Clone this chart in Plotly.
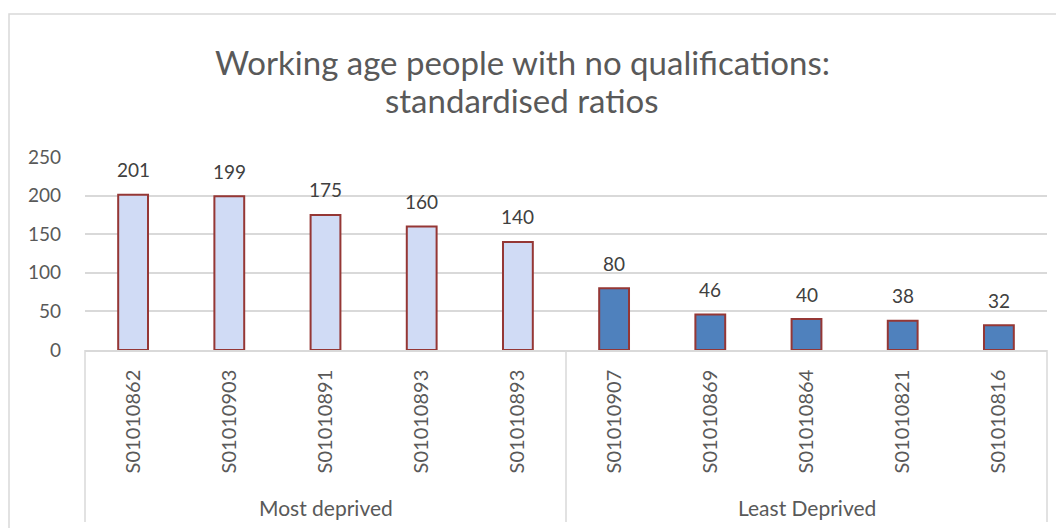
import plotly.graph_objects as go

categories = ["S01010862", "S01010903", "S01010891", "S01010893", "S01010893",
              "S01010907", "S01010869", "S01010864", "S01010821", "S01010816"]
values = [201, 199, 175, 160, 140, 80, 46, 40, 38, 32]
groups = ["Most deprived"] * 5 + ["Least Deprived"] * 5
group_names = ["Most deprived", "Least Deprived"]
yticks = [0, 50, 100, 150, 200, 250]
title_lines = ["Working age people with no qualifications:", "standardised ratios"]

FONT = "Lato"
TXT = "#595959"

# plot area geometry in figure pixels (page is offset by 8px body margin)
PL, PR, PT, PB = 77, 1039, 149, 342
PW, PH = PR - PL, PB - PT

def px(xp):
    return (xp - PL) / PW

def py(yp):
    return (PB - yp) / PH

xpos = list(range(len(categories)))
colors = ["#d0dbf5" if g == "Most deprived" else "#4f81bd" for g in groups]

fig = go.Figure()
fig.add_trace(go.Bar(
    x=xpos, y=values, width=0.31,
    marker=dict(color=colors, line=dict(color="#953735", width=2)),
    hoverinfo="x+y", showlegend=False,
))

# data labels
for xp, v in zip(xpos, values):
    fig.add_annotation(x=xp, y=v, text=str(v), showarrow=False, yshift=25,
                       font=dict(family=FONT, size=19, color="#404040"),
                       xref="x", yref="y")

# title (two lines)
for line, yc in zip(title_lines, [54, 92]):
    fig.add_annotation(text=line, xref="paper", yref="paper", x=px(514), y=py(yc),
                       xanchor="center", yanchor="middle", showarrow=False,
                       font=dict(family=FONT, size=33, color=TXT))

# group labels and dividers
n = len(categories)
start = 0
for gname in group_names:
    cnt = groups.count(gname)
    center = (start + cnt / 2) / n
    fig.add_annotation(text=gname, xref="paper", yref="paper", x=center, y=py(499),
                       xanchor="center", yanchor="middle", showarrow=False,
                       font=dict(family=FONT, size=21, color=TXT))
    start += cnt
bounds = [0]
acc = 0
for gname in group_names:
    acc += groups.count(gname)
    bounds.append(acc / n)
for b in bounds:
    fig.add_shape(type="line", xref="paper", yref="paper", x0=b, x1=b, y0=0, y1=py(514),
                  line=dict(color="#d9d9d9", width=1.5))

# outer border
fig.add_shape(type="rect", xref="paper", yref="paper",
              x0=px(1), x1=px(1070), y0=py(540), y1=py(6),
              line=dict(color="#d9d9d9", width=1.5), fillcolor="rgba(0,0,0,0)")

fig.update_layout(
    width=1056, height=520,
    margin=dict(l=PL, r=1056 - PR, t=PT, b=520 - PB),
    paper_bgcolor="white", plot_bgcolor="white",
    font=dict(family=FONT, color=TXT),
)
fig.update_xaxes(
    range=[-0.5, n - 0.5], tickmode="array", tickvals=xpos, ticktext=categories,
    tickangle=-90, tickfont=dict(family=FONT, size=20, color=TXT),
    showgrid=False, showline=True, linecolor="#d9d9d9", linewidth=1.5,
    ticks="", ticklabelstandoff=10, zeroline=False,
)
fig.update_yaxes(
    range=[0, 250], tickmode="array", tickvals=yticks,
    tickfont=dict(family=FONT, size=19, color=TXT),
    showgrid=True, gridcolor="#d9d9d9", gridwidth=1.5,
    showline=False, zeroline=False, ticks="", ticklabelstandoff=23,
)

fig.write_html("out.html")
